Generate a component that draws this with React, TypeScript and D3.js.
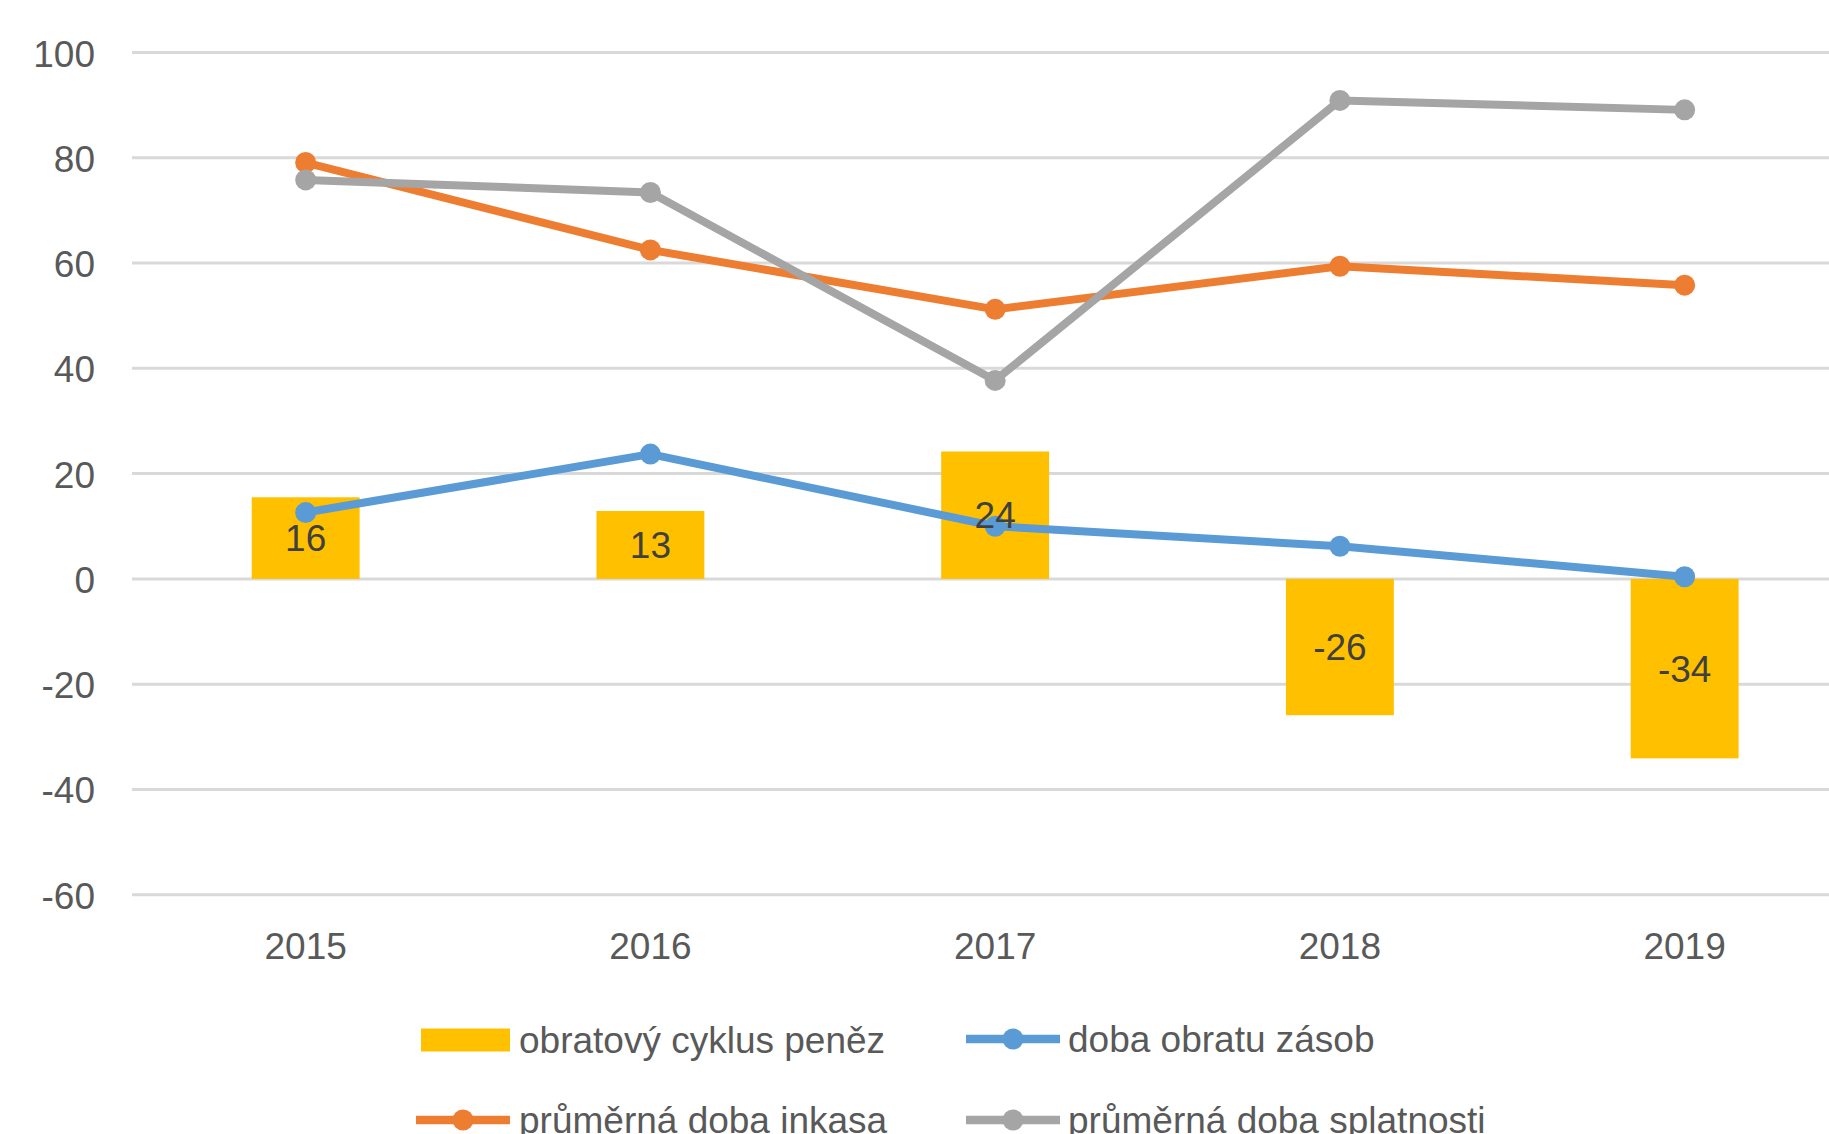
import React from "react";
import * as d3 from "d3";

const years = ["2015", "2016", "2017", "2018", "2019"];
const cashCycle = [15.5, 12.9, 24.2, -25.9, -34.1];
const inventoryDays = [12.6, 23.7, 10.0, 6.2, 0.4];
const collectionDays = [79.1, 62.5, 51.2, 59.4, 55.8];
const payableDays = [75.8, 73.4, 37.7, 90.9, 89.1];
const yTicks = [100, 80, 60, 40, 20, 0, -20, -40, -60];

const seriesNames = {
  bars: "obratový cyklus peněz",
  inventory: "doba obratu zásob",
  collection: "průměrná doba inkasa",
  payable: "průměrná doba splatnosti",
};

const C_BAR = "#FFC000";
const C_BLUE = "#5B9BD5";
const C_ORANGE = "#ED7D31";
const C_GRAY = "#A5A5A5";
const FONT = "'Liberation Sans', Arial, sans-serif";

export default function App() {
  const W = 1829;
  const H = 1134;
  const y = d3.scaleLinear().domain([-60, 100]).range([894.7, 52.5]);
  const x = d3.scaleBand<string>().domain(years).range([133.3, 1857]).padding(0);
  const cx = (yr: string) => (x(yr) as number) + x.bandwidth() / 2;
  const barW = x.bandwidth() * 0.313;

  const line = d3
    .line<number>()
    .x((_, i) => cx(years[i]))
    .y((v) => y(v));

  const lineSeries = [
    { values: inventoryDays, color: C_BLUE },
    { values: collectionDays, color: C_ORANGE },
    { values: payableDays, color: C_GRAY },
  ];

  const legendItems = [
    { name: seriesNames.bars, type: "bar", color: C_BAR, sx: 421, tx: 519, cy: 1040 },
    { name: seriesNames.inventory, type: "line", color: C_BLUE, sx: 966, tx: 1068, cy: 1039 },
    { name: seriesNames.collection, type: "line", color: C_ORANGE, sx: 416, tx: 519, cy: 1120 },
    { name: seriesNames.payable, type: "line", color: C_GRAY, sx: 966, tx: 1068, cy: 1120 },
  ];

  return (
    <svg
      width={W}
      height={H}
      style={{ position: "absolute", left: 0, top: 0, background: "#fff" }}
      fontFamily={FONT}
    >
      <rect x={0} y={0} width={W} height={H} fill="#fff" />
      {yTicks.map((t) => (
        <g key={t}>
          <line x1={132} x2={W} y1={y(t)} y2={y(t)} stroke="#D9D9D9" strokeWidth={3} />
          <text x={95} y={y(t) + 14} textAnchor="end" fontSize={37} fill="#595959">
            {t}
          </text>
        </g>
      ))}
      {years.map((yr) => (
        <text key={yr} x={cx(yr)} y={959} textAnchor="middle" fontSize={37} fill="#595959">
          {yr}
        </text>
      ))}
      {cashCycle.map((v, i) => (
        <rect
          key={i}
          x={cx(years[i]) - barW / 2}
          y={Math.min(y(v), y(0))}
          width={barW}
          height={Math.abs(y(v) - y(0))}
          fill={C_BAR}
        />
      ))}
      {lineSeries.map((s, k) => (
        <g key={k}>
          <path d={line(s.values) || ""} fill="none" stroke={s.color} strokeWidth={8} strokeLinejoin="round" />
          {s.values.map((v, i) => (
            <circle key={i} cx={cx(years[i])} cy={y(v)} r={10.5} fill={s.color} />
          ))}
        </g>
      ))}
      {cashCycle.map((v, i) => (
        <text
          key={i}
          x={cx(years[i])}
          y={(y(v) + y(0)) / 2 + 13}
          textAnchor="middle"
          fontSize={37}
          fill="#404040"
        >
          {Math.round(v)}
        </text>
      ))}
      {legendItems.map((l, i) => (
        <g key={i}>
          {l.type === "bar" ? (
            <rect x={l.sx} y={l.cy - 11.5} width={89} height={23} fill={l.color} />
          ) : (
            <g>
              <line x1={l.sx} x2={l.sx + 94} y1={l.cy} y2={l.cy} stroke={l.color} strokeWidth={8.5} />
              <circle cx={l.sx + 47} cy={l.cy} r={10.5} fill={l.color} />
            </g>
          )}
          <text x={l.tx} y={l.cy + 13} fontSize={37} fill="#595959">
            {l.name}
          </text>
        </g>
      ))}
    </svg>
  );
}
